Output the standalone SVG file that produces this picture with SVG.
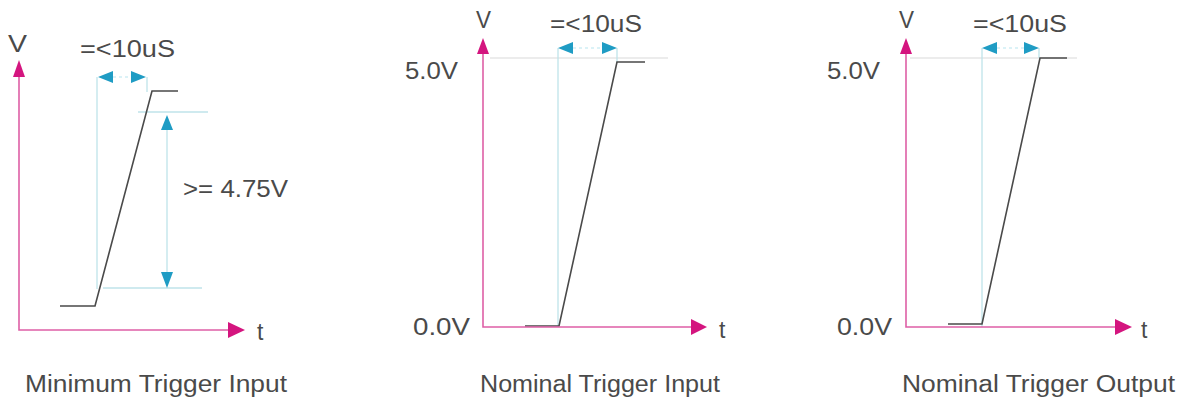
<svg xmlns="http://www.w3.org/2000/svg" width="1185" height="400" viewBox="0 0 1185 400">
<style>
text{font-family:"Liberation Sans",Arial,sans-serif;fill:#4a4a4a;font-size:23px}
.ax{stroke:#de5fa6;stroke-width:1.6;fill:none}
.axh{fill:#d4157f}
.cy{stroke:#bfe3ea;stroke-width:1.3;fill:none}
.cyh{fill:#1f9cc4}
.dot{stroke:#cfeef5;stroke-width:1.3;stroke-dasharray:3 3;fill:none}
.ref{stroke:#e6e6e6;stroke-width:1.3;fill:none}
.sig{stroke:#4a4a4a;stroke-width:1.6;fill:none}
</style>
<rect width="1185" height="400" fill="#fff"/>
<g id="connectors">
<line class="cy" x1="97" y1="77" x2="97" y2="289"/>
<line class="cy" x1="147" y1="77" x2="147" y2="92"/>
<line class="cy" x1="138" y1="112" x2="208" y2="112"/>
<line class="cy" x1="103" y1="288" x2="202" y2="288"/>
<line class="dot" x1="113" y1="77" x2="131" y2="77"/>
<polygon class="cyh" points="98,77 113,71 113,83"/>
<polygon class="cyh" points="146,77 131,71 131,83"/>
<line class="cy" x1="167" y1="130" x2="167" y2="272"/>
<polygon class="cyh" points="167,115 161,130 173,130"/>
<polygon class="cyh" points="167,288 161,272 173,272"/>
<line class="ref" x1="490" y1="58" x2="668" y2="58"/>
<line class="cy" x1="558" y1="48" x2="558" y2="327"/>
<line class="cy" x1="617" y1="48" x2="617" y2="62"/>
<line class="dot" x1="573" y1="48" x2="602" y2="48"/>
<polygon class="cyh" points="558,48 573,42 573,54"/>
<polygon class="cyh" points="617,48 602,42 602,54"/>
<line class="ref" x1="910" y1="58" x2="1077" y2="58"/>
<line class="cy" x1="982" y1="48" x2="982" y2="327"/>
<line class="cy" x1="1039" y1="48" x2="1039" y2="58"/>
<line class="dot" x1="997" y1="48" x2="1024" y2="48"/>
<polygon class="cyh" points="982,48 997,42 997,54"/>
<polygon class="cyh" points="1039,48 1024,42 1024,54"/>
</g>
<g id="panel1">
<polyline class="sig" points="60,306 95,306 152,91 178,91"/>
<polyline class="ax" points="19,77 19,330 228,330"/>
<polygon class="axh" points="19,60 13,77 25,77"/>
<polygon class="axh" points="245,330 228,322 228,338"/>
<text x="8" y="52" font-size="25" textLength="19" lengthAdjust="spacingAndGlyphs">V</text>
<text x="80" y="57" textLength="95" lengthAdjust="spacingAndGlyphs">=&lt;10uS</text>
<text x="183" y="197" textLength="105" lengthAdjust="spacingAndGlyphs">&gt;= 4.75V</text>
<text x="257" y="340" font-size="24">t</text>
<text x="25" y="392" textLength="262" lengthAdjust="spacingAndGlyphs">Minimum Trigger Input</text>
</g>
<g id="panel2">
<polyline class="sig" points="525,326 559,326 617,62 645,62"/>
<polyline class="ax" points="483,54 483,327 692,327"/>
<polygon class="axh" points="483,38 477,54 489,54"/>
<polygon class="axh" points="707,327 691,319 691,335"/>
<text x="476" y="28" font-size="21" textLength="15" lengthAdjust="spacingAndGlyphs">V</text>
<text x="550" y="32" textLength="92" lengthAdjust="spacingAndGlyphs">=&lt;10uS</text>
<text x="405" y="79" textLength="53" lengthAdjust="spacingAndGlyphs">5.0V</text>
<text x="413" y="335" textLength="57" lengthAdjust="spacingAndGlyphs">0.0V</text>
<text x="719" y="338" font-size="24">t</text>
<text x="480" y="392" textLength="240" lengthAdjust="spacingAndGlyphs">Nominal Trigger Input</text>
</g>
<g id="panel3">
<polyline class="sig" points="948,324 982,324 1040,58 1067,58"/>
<polyline class="ax" points="906,54 906,327 1115,327"/>
<polygon class="axh" points="906,38 900,54 912,54"/>
<polygon class="axh" points="1132,327 1115,319 1115,335"/>
<text x="899" y="28" font-size="21" textLength="15" lengthAdjust="spacingAndGlyphs">V</text>
<text x="973" y="32" textLength="94" lengthAdjust="spacingAndGlyphs">=&lt;10uS</text>
<text x="827" y="79" textLength="53" lengthAdjust="spacingAndGlyphs">5.0V</text>
<text x="837" y="335" textLength="55" lengthAdjust="spacingAndGlyphs">0.0V</text>
<text x="1141" y="338" font-size="24">t</text>
<text x="902" y="392" textLength="273" lengthAdjust="spacingAndGlyphs">Nominal Trigger Output</text>
</g>
</svg>
